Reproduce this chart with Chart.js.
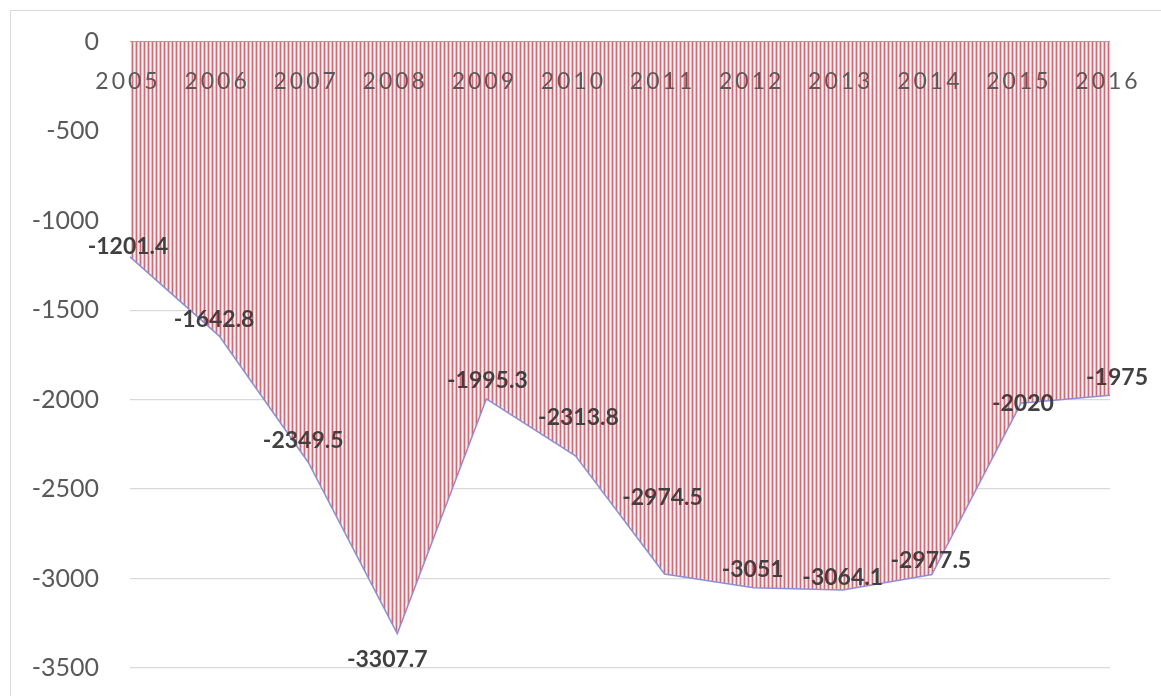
<!DOCTYPE html>
<html>
<head>
<meta charset="utf-8">
<script src="https://cdn.jsdelivr.net/npm/chart.js@4/dist/chart.umd.min.js"></script>
<style>
    html, body { margin: 0; padding: 0; background: #fff; overflow: hidden; }
    #wrap { position: relative; width: 1161px; height: 696px; }
    #frame { position: absolute; left: 10px; top: 10px; width: 1200px; height: 720px;
             border: 1px solid #d9d9d9; box-sizing: border-box; }
    canvas { position: absolute; left: 0; top: 0; }
</style>
</head>
<body>
<div id="wrap">
    <div id="frame"></div>
    <canvas id="c" width="1161" height="696"></canvas>
</div>
<script>
// data
const years = ['2005', '2006', '2007', '2008', '2009', '2010', '2011', '2012', '2013', '2014', '2015', '2016'];
const balance = [-1201.4, -1642.8, -2349.5, -3307.7, -1995.3, -2313.8, -2974.5, -3051, -3064.1, -2977.5, -2020, -1975];
const yTicks = [0, -500, -1000, -1500, -2000, -2500, -3000, -3500];

// fine red/white vertical stripes like the original fill
function stripes() {
    const c = document.createElement('canvas');
    c.width = 4;
    c.height = 1;
    const g = c.getContext('2d');
    const cols = ['#de6471', '#f5c6ca', '#fef8f8', '#f1b9bd'];
    cols.forEach((col, i) => {
        g.fillStyle = col;
        g.fillRect(i, 0, 1, 1);
    });
    return g.createPattern(c, 'repeat');
}

// year labels sit on the zero line, letter spaced
const yearLabels = {
    id: 'yearLabels',
    afterDatasetsDraw(chart) {
        const ctx = chart.ctx;
        const x = chart.scales.x;
        ctx.save();
        ctx.font = '23px Lato';
        ctx.letterSpacing = '3px';
        ctx.fillStyle = '#595959';
        ctx.textAlign = 'center';
        ctx.textBaseline = 'middle';
        years.forEach((y, i) => {
            ctx.fillText(y, x.getPixelForValue(i) - 2, 82);
        });
        ctx.restore();
    }
};

// value labels, nudged like in the picture
const valueLabels = {
    id: 'valueLabels',
    afterDatasetsDraw(chart, args, opts) {
        const ctx = chart.ctx;
        const meta = chart.getDatasetMeta(0);
        ctx.save();
        ctx.font = 'bold 23px Lato';
        ctx.fillStyle = '#404040';
        ctx.textAlign = 'center';
        ctx.textBaseline = 'middle';
        meta.data.forEach((pt, i) => {
            const o = opts.offsets[i] || [0, 0];
            ctx.fillText(String(balance[i]), pt.x + o[0], pt.y + o[1]);
        });
        ctx.restore();
    }
};

new Chart(document.getElementById('c'), {
    type: 'line',
    data: {
        labels: years,
        datasets: [{
                data: balance,
                fill: 'origin',
                backgroundColor: stripes(),
                borderColor: '#8c8fd8',
                borderWidth: 1.5,
                pointRadius: 0,
                tension: 0
            }]
    },
    options: {
        responsive: false,
        animation: false,
        layout: {
            padding: {left: 10, right: 51, top: 42, bottom: 28}
        },
        scales: {
            x: {
                display: false
            },
            y: {
                min: -3500,
                max: 0,
                afterFit(s) {
                    s.width = 120;
                    // tick padding would otherwise eat into the height
                    s.paddingTop = 0;
                    s.paddingBottom = 0;
                },
                afterBuildTicks(s) {
                    s.ticks = yTicks.map(v => ({value: v}));
                },
                border: {display: false},
                grid: {
                    drawTicks: false,
                    color: ctx => ctx.tick && ctx.tick.value === 0 ? '#9a9ddc' : '#d9d9d9',
                    lineWidth: 1.3
                },
                ticks: {
                    padding: 31,
                    color: '#595959',
                    font: {family: 'Lato', size: 25},
                    callback: v => String(v)
                }
            }
        },
        plugins: {
            legend: {display: false},
            tooltip: {enabled: false},
            valueLabels: {
                offsets: [[-2, -10], [-5, -16], [-5, -22], [-10, 26], [1, -18], [3, -38],
                    [-2, -76], [-1, -18], [0, -12], [-1, -14], [2, 0], [7, -18]]
            }
        }
    },
    plugins: [yearLabels, valueLabels]
});
</script>
</body>
</html>
